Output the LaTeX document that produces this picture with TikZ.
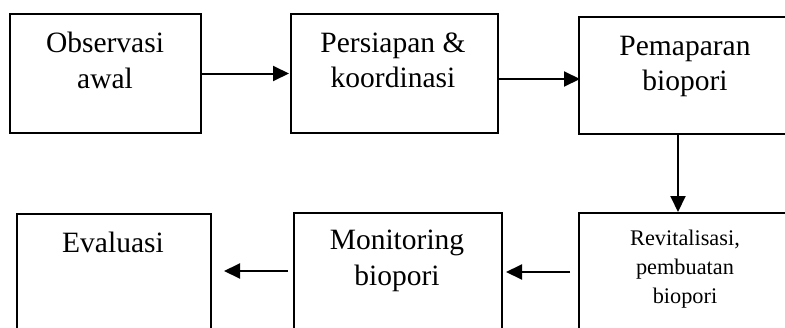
\documentclass[tikz,border=0pt]{standalone}
\usepackage{fontspec}
\setmainfont{Liberation Serif}
\usetikzlibrary{arrows.meta}

\tikzset{
  stepbox/.style={draw, line width=2pt, rectangle, inner sep=0pt, anchor=north west},
  boxtext/.style={align=center, inner sep=0pt, anchor=north,
    font=\fontsize{29.5}{35.5}\selectfont},
  smalltext/.style={align=center, inner sep=0pt, anchor=north,
    font=\fontsize{22.3}{29}\selectfont},
  flow/.style={line width=2pt, -{Triangle[length=16pt, width=15pt]}}
}

\begin{document}
\begin{tikzpicture}[x=1pt, y=-1pt]
  \useasboundingbox (0,0) rectangle (785,327);

  % top row
  \node[stepbox, minimum width=191pt, minimum height=119pt] (b1) at (9,13) {};
  \node[stepbox, minimum width=207pt, minimum height=119pt] (b2) at (290,13) {};
  \node[stepbox, minimum width=214pt, minimum height=117pt] (b3) at (578,16) {};

  % bottom row (runs past the lower edge)
  \node[stepbox, minimum width=194pt, minimum height=140pt] (b4) at (16,213) {};
  \node[stepbox, minimum width=208pt, minimum height=140pt] (b5) at (293,212) {};
  \node[stepbox, minimum width=214pt, minimum height=140pt] (b6) at (578,212) {};

  % box texts
  \node[boxtext] (t1) at (105,32) {Observasi\\awal};
  \node[boxtext] (t2) at (393,32.5) {Persiapan \&\\koordinasi};
  \node[boxtext] (t3) at (685,35.5) {Pemaparan\\biopori};
  \node[boxtext] (t4) at (113,232) {Evaluasi};
  \node[boxtext] (t5) at (397,230) {Monitoring\\biopori};
  \node[smalltext] (t6) at (685,229.5) {Revitalisasi,\\pembuatan\\biopori};

  % connectors
  \draw[flow, shorten >=1pt] (b1.east) -- (b2.west);
  \coordinate (a2) at ([yshift=-5.5pt]b2.east);
  \draw[flow] (a2) -- ([xshift=2pt]b3.west |- a2);
  \draw[flow] ([xshift=-8pt]b3.south) -- ([xshift=-8pt]b6.north);
  \coordinate (r1) at (0,272);
  \coordinate (r2) at (0,271);
  \draw[flow, shorten <=8pt, shorten >=3pt] (b6.west |- r1) -- (b5.east |- r1);
  \draw[flow, shorten <=5pt, shorten >=12pt] (b5.west |- r2) -- (b4.east |- r2);
\end{tikzpicture}
\end{document}
